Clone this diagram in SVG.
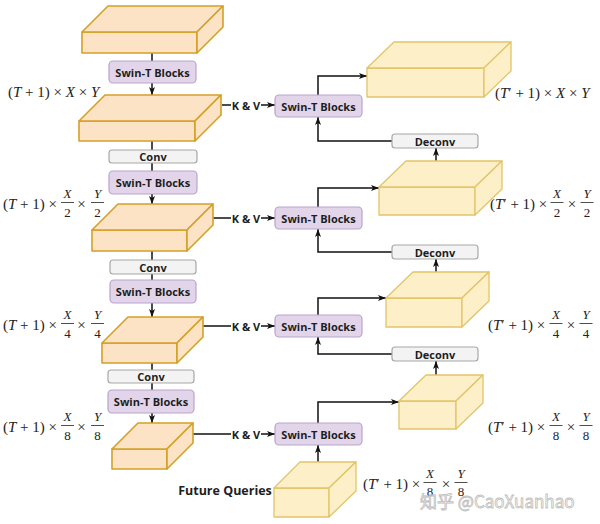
<svg xmlns="http://www.w3.org/2000/svg" width="600" height="524" viewBox="0 0 600 524">
<defs>
<style>
.lb{fill:#fde3c6;stroke:#d4a027;stroke-width:1.6;stroke-linejoin:round}
.rb{fill:#fdf0c8;stroke:#e3c468;stroke-width:1.3;stroke-linejoin:round}
.sw{fill:#e2d5ea;stroke:#b9a3cd;stroke-width:1.2}
.cv{fill:#f3f3f3;stroke:#a8a8a8;stroke-width:1.2}
.t{font-family:"Open Sans","Liberation Sans",sans-serif;font-weight:700;font-size:11px;fill:#1e1e1e;text-anchor:middle;dominant-baseline:central}
.m{font-family:"Liberation Serif","DejaVu Serif",serif;font-size:15px;fill:#222}
.f{font-family:"Liberation Serif","DejaVu Serif",serif;font-size:13px;fill:#222;text-anchor:middle}
.i{font-style:italic}
.bar{stroke:#222;stroke-width:0.8}
.c{fill:none;stroke:#111;stroke-width:1.5}
.ca{fill:none;stroke:#111;stroke-width:1.5;marker-end:url(#ah)}
</style>
<marker id="ah" viewBox="0 0 8 6" refX="8" refY="3" markerWidth="8" markerHeight="6" orient="auto" markerUnits="userSpaceOnUse"><path d="M0,0 L8,3 L0,6 L2,3 z" fill="#111"/></marker>
</defs>
<rect width="600" height="524" fill="#ffffff"/>

<g id="connectors">
<path class="c" d="M152,53 V61"/>
<path class="ca" d="M152,83 V95"/>
<path class="c" d="M152,141 V150"/>
<path class="c" d="M152,163 V171"/>
<path class="ca" d="M152,194 V204"/>
<path class="c" d="M152,251 V260"/>
<path class="c" d="M152,274 V280"/>
<path class="ca" d="M152,303 V317"/>
<path class="c" d="M152,363 V370"/>
<path class="c" d="M152,383 V390"/>
<path class="ca" d="M152,413 V423"/>
<path class="c" d="M222,105 H231"/><path class="ca" d="M261,105 H275"/>
<path class="c" d="M213,218 H231"/><path class="ca" d="M261,218 H275"/>
<path class="c" d="M203,326 H231"/><path class="ca" d="M261,326 H275"/>
<path class="c" d="M193,434 H231"/><path class="ca" d="M261,434 H275"/>
<path class="ca" d="M318,95 V76 H367"/>
<path class="ca" d="M392,141 H318 V117"/>
<path class="ca" d="M436,161 V148"/>
<path class="ca" d="M318,207 V188 H379"/>
<path class="ca" d="M392,252 H318 V229"/>
<path class="ca" d="M436,272 V259"/>
<path class="ca" d="M318,315 V298 H386"/>
<path class="ca" d="M392,354 H318 V337"/>
<path class="ca" d="M436,375 V361"/>
<path class="ca" d="M318,423 V402 H399"/>
<path class="ca" d="M318,462 V445"/>
<text class="t" x="246" y="105">K &amp; V</text>
<text class="t" x="246" y="218">K &amp; V</text>
<text class="t" x="246" y="326">K &amp; V</text>
<text class="t" x="246" y="434">K &amp; V</text>
</g>

<g id="enc1"><rect class="lb" x="82" y="32" width="115" height="21"/><polygon class="lb" points="82,32 108,6 223,6 197,32"/><polygon class="lb" points="197,32 223,6 223,27 197,53"/></g>
<g id="enc2"><rect class="lb" x="79" y="121" width="116" height="20"/><polygon class="lb" points="79,121 105,95 221,95 195,121"/><polygon class="lb" points="195,121 221,95 221,115 195,141"/></g>
<g id="enc3"><rect class="lb" x="92" y="230" width="95" height="21"/><polygon class="lb" points="92,230 118,204 213,204 187,230"/><polygon class="lb" points="187,230 213,204 213,225 187,251"/></g>
<g id="enc4"><rect class="lb" x="102" y="343" width="75" height="20"/><polygon class="lb" points="102,343 128,317 203,317 177,343"/><polygon class="lb" points="177,343 203,317 203,337 177,363"/></g>
<g id="enc5"><rect class="lb" x="112" y="449" width="55" height="20"/><polygon class="lb" points="112,449 138,423 193,423 167,449"/><polygon class="lb" points="167,449 193,423 193,443 167,469"/></g>

<g id="dec1"><rect class="rb" x="367" y="68" width="117" height="29"/><polygon class="rb" points="367,68 394,42 511,42 484,68"/><polygon class="rb" points="484,68 511,42 511,71 484,97"/></g>
<g id="dec2"><rect class="rb" x="379" y="187" width="96" height="28"/><polygon class="rb" points="379,187 406,161 502,161 475,187"/><polygon class="rb" points="475,187 502,161 502,189 475,215"/></g>
<g id="dec3"><rect class="rb" x="386" y="298" width="76" height="29"/><polygon class="rb" points="386,298 413,272 489,272 462,298"/><polygon class="rb" points="462,298 489,272 489,301 462,327"/></g>
<g id="dec4"><rect class="rb" x="399" y="401" width="57" height="28"/><polygon class="rb" points="399,401 426,375 483,375 456,401"/><polygon class="rb" points="456,401 483,375 483,403 456,429"/></g>
<g id="future"><rect class="rb" x="274" y="488" width="55" height="29"/><polygon class="rb" points="274,488 300,462 356,462 329,488"/><polygon class="rb" points="329,488 356,462 356,491 329,517"/></g>

<g id="swinL1"><rect class="sw" x="109" y="61" width="87" height="22" rx="4"/><text class="t" x="152.5" y="72">Swin-T Blocks</text></g>
<g id="conv1"><rect class="cv" x="109" y="150" width="88" height="13" rx="3"/><text class="t" x="153" y="156.5">Conv</text></g>
<g id="swinL2"><rect class="sw" x="109" y="171" width="88" height="23" rx="4"/><text class="t" x="153" y="182.5">Swin-T Blocks</text></g>
<g id="conv2"><rect class="cv" x="110" y="260" width="86" height="14" rx="3"/><text class="t" x="153" y="267">Conv</text></g>
<g id="swinL3"><rect class="sw" x="110" y="280" width="86" height="23" rx="4"/><text class="t" x="153" y="291.5">Swin-T Blocks</text></g>
<g id="conv3"><rect class="cv" x="108" y="370" width="86" height="13" rx="3"/><text class="t" x="151" y="376.5">Conv</text></g>
<g id="swinL4"><rect class="sw" x="108" y="390" width="86" height="23" rx="4"/><text class="t" x="151" y="401.5">Swin-T Blocks</text></g>

<g id="swinR1"><rect class="sw" x="275" y="95" width="87" height="22" rx="4"/><text class="t" x="318.5" y="106">Swin-T Blocks</text></g>
<g id="swinR2"><rect class="sw" x="275" y="207" width="87" height="22" rx="4"/><text class="t" x="318.5" y="218">Swin-T Blocks</text></g>
<g id="swinR3"><rect class="sw" x="275" y="315" width="87" height="22" rx="4"/><text class="t" x="318.5" y="326">Swin-T Blocks</text></g>
<g id="swinR4"><rect class="sw" x="275" y="423" width="87" height="22" rx="4"/><text class="t" x="318.5" y="434">Swin-T Blocks</text></g>

<g id="deconv1"><rect class="cv" x="392" y="134" width="86" height="14" rx="3"/><text class="t" x="435" y="141">Deconv</text></g>
<g id="deconv2"><rect class="cv" x="392" y="245" width="86" height="14" rx="3"/><text class="t" x="435" y="252">Deconv</text></g>
<g id="deconv3"><rect class="cv" x="392" y="347" width="86" height="14" rx="3"/><text class="t" x="435" y="354">Deconv</text></g>

<g id="labels">
<text class="t" x="225" y="490" style="font-size:12.5px">Future Queries</text>

<text class="m" x="8" y="97">(<tspan class="i">T</tspan> + 1) × <tspan class="i">X</tspan> × <tspan class="i">Y</tspan></text>

<text class="m" x="3" y="209">(<tspan class="i">T</tspan> + 1) ×</text>
<text class="f i" x="67.5" y="198">X</text><line class="bar" x1="61" y1="202.5" x2="74" y2="202.5"/><text class="f" x="67.5" y="217">2</text>
<text class="m" x="81.5" y="209" text-anchor="middle">×</text>
<text class="f i" x="97.5" y="198">Y</text><line class="bar" x1="91" y1="202.5" x2="104" y2="202.5"/><text class="f" x="97.5" y="217">2</text>

<text class="m" x="3" y="330">(<tspan class="i">T</tspan> + 1) ×</text>
<text class="f i" x="67.5" y="319">X</text><line class="bar" x1="61" y1="323.5" x2="74" y2="323.5"/><text class="f" x="67.5" y="338">4</text>
<text class="m" x="81.5" y="330" text-anchor="middle">×</text>
<text class="f i" x="97.5" y="319">Y</text><line class="bar" x1="91" y1="323.5" x2="104" y2="323.5"/><text class="f" x="97.5" y="338">4</text>

<text class="m" x="3" y="432">(<tspan class="i">T</tspan> + 1) ×</text>
<text class="f i" x="67.5" y="421">X</text><line class="bar" x1="61" y1="425.5" x2="74" y2="425.5"/><text class="f" x="67.5" y="440">8</text>
<text class="m" x="81.5" y="432" text-anchor="middle">×</text>
<text class="f i" x="97.5" y="421">Y</text><line class="bar" x1="91" y1="425.5" x2="104" y2="425.5"/><text class="f" x="97.5" y="440">8</text>

<text class="m" x="495" y="98">(<tspan class="i">T</tspan>′ + 1) × <tspan class="i">X</tspan> × <tspan class="i">Y</tspan></text>

<text class="m" x="490" y="209">(<tspan class="i">T</tspan>′ + 1) ×</text>
<text class="f i" x="557" y="198">X</text><line class="bar" x1="550.5" y1="202.5" x2="563.5" y2="202.5"/><text class="f" x="557" y="217">2</text>
<text class="m" x="572" y="209" text-anchor="middle">×</text>
<text class="f i" x="587" y="198">Y</text><line class="bar" x1="580.5" y1="202.5" x2="593.5" y2="202.5"/><text class="f" x="587" y="217">2</text>

<text class="m" x="488" y="330">(<tspan class="i">T</tspan>′ + 1) ×</text>
<text class="f i" x="556" y="319">X</text><line class="bar" x1="549.5" y1="323.5" x2="562.5" y2="323.5"/><text class="f" x="556" y="338">4</text>
<text class="m" x="571" y="330" text-anchor="middle">×</text>
<text class="f i" x="586" y="319">Y</text><line class="bar" x1="579.5" y1="323.5" x2="592.5" y2="323.5"/><text class="f" x="586" y="338">4</text>

<text class="m" x="488" y="432">(<tspan class="i">T</tspan>′ + 1) ×</text>
<text class="f i" x="556" y="421">X</text><line class="bar" x1="549.5" y1="425.5" x2="562.5" y2="425.5"/><text class="f" x="556" y="440">8</text>
<text class="m" x="571" y="432" text-anchor="middle">×</text>
<text class="f i" x="586" y="421">Y</text><line class="bar" x1="579.5" y1="425.5" x2="592.5" y2="425.5"/><text class="f" x="586" y="440">8</text>

<text class="m" x="363" y="489">(<tspan class="i">T</tspan>′ + 1) ×</text>
<text class="f i" x="430" y="478">X</text><line class="bar" x1="423.5" y1="482.5" x2="436.5" y2="482.5"/><text class="f" x="430" y="496">8</text>
<text class="m" x="446" y="489" text-anchor="middle">×</text>
<text class="f i" x="461" y="478">Y</text><line class="bar" x1="454.5" y1="482.5" x2="467.5" y2="482.5"/><text class="f" x="461" y="496">8</text>

<text x="420" y="508" style="font-family:'Noto Sans CJK SC','Noto Sans',sans-serif;font-size:17px;fill:#ffffff;fill-opacity:0.6;stroke:#bdbdbd;stroke-width:0.8">知乎 @CaoXuanhao</text>
</g>
</svg>
